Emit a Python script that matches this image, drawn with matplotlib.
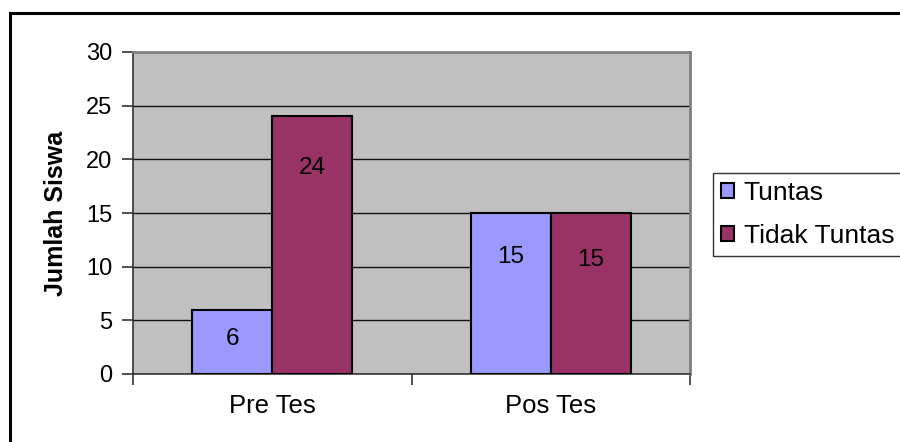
import matplotlib
matplotlib.use("Agg")
import matplotlib.pyplot as plt
from matplotlib.patches import Rectangle
import numpy as np

# Data
categories = ["Pre Tes", "Pos Tes"]
series_names = ["Tuntas", "Tidak Tuntas"]
tuntas = [6, 15]
tidak_tuntas = [24, 15]
y_ticks = [0, 5, 10, 15, 20, 25, 30]
y_label = "Jumlah Siswa"

colors = ["#9999FF", "#993366"]
label_drop = [[2.75, 4.07], [4.78, 4.38]]  # how far below each bar top its value sits

plt.rcParams["font.family"] = ["Liberation Sans", "DejaVu Sans"]

fig = plt.figure(figsize=(9, 4.42), dpi=100)
fig.patch.set_facecolor("white")

# outer chart frame
fig.patches.append(Rectangle((10 / 900, -0.05), 1.0, 1 - 13 / 442 + 0.05,
                             transform=fig.transFigure, fill=False,
                             edgecolor="black", linewidth=2.2, zorder=0))

ax = fig.add_axes([133 / 900, 1 - 374 / 442, 557 / 900, 322 / 442])
ax.set_facecolor("#C0C0C0")

bar_w = 0.287
centers = np.arange(len(categories)) + 0.5
series = [tuntas, tidak_tuntas]
for i, (vals, col) in enumerate(zip(series, colors)):
    xs = centers + (i - 0.5) * bar_w
    ax.bar(xs, vals, width=bar_w, color=col, edgecolor="black",
           linewidth=1.5, zorder=3, label=series_names[i])
    for x, v, d in zip(xs, vals, label_drop[i]):
        ax.text(x, v - d, str(v), ha="center", va="center",
                fontsize=17.5, color="black", zorder=4)

ax.set_xlim(0, 2)
ax.set_ylim(0, 30)
ax.set_yticks(y_ticks)
ax.set_yticklabels([str(t) for t in y_ticks], fontsize=17)
ax.yaxis.grid(True, color="#111111", linewidth=1.0, zorder=1)
ax.set_axisbelow(True)

ax.set_xticks([0, 1, 2])
ax.set_xticklabels([])
ax.set_xticks(centers, minor=True)
ax.set_xticklabels(categories, minor=True, fontsize=18.5)
ax.tick_params(axis="x", which="minor", length=0, pad=14.5)
ax.tick_params(axis="x", which="major", length=8, width=1.2, color="#333333", direction="out")
ax.tick_params(axis="y", length=8, width=1.2, color="#333333", direction="out", pad=7)

for side in ["top", "right"]:
    ax.spines[side].set_color("#808080")
    ax.spines[side].set_linewidth(2)
for side in ["left", "bottom"]:
    ax.spines[side].set_color("#333333")
    ax.spines[side].set_linewidth(1.2)

ax.set_ylabel(y_label, fontsize=18, fontweight="bold")
ax.yaxis.set_label_coords(-0.117, 0.5)

leg = fig.legend(loc="upper left", bbox_to_anchor=(713 / 900, 1 - 173 / 442),
                 fontsize=19, frameon=True, fancybox=False, handlelength=0.5,
                 handleheight=0.5, handletextpad=0.36, borderpad=0.3,
                 labelspacing=0.72, borderaxespad=0)
leg.get_frame().set_edgecolor("black")
leg.get_frame().set_linewidth(1.0)

fig.savefig("out.png", dpi=100)
